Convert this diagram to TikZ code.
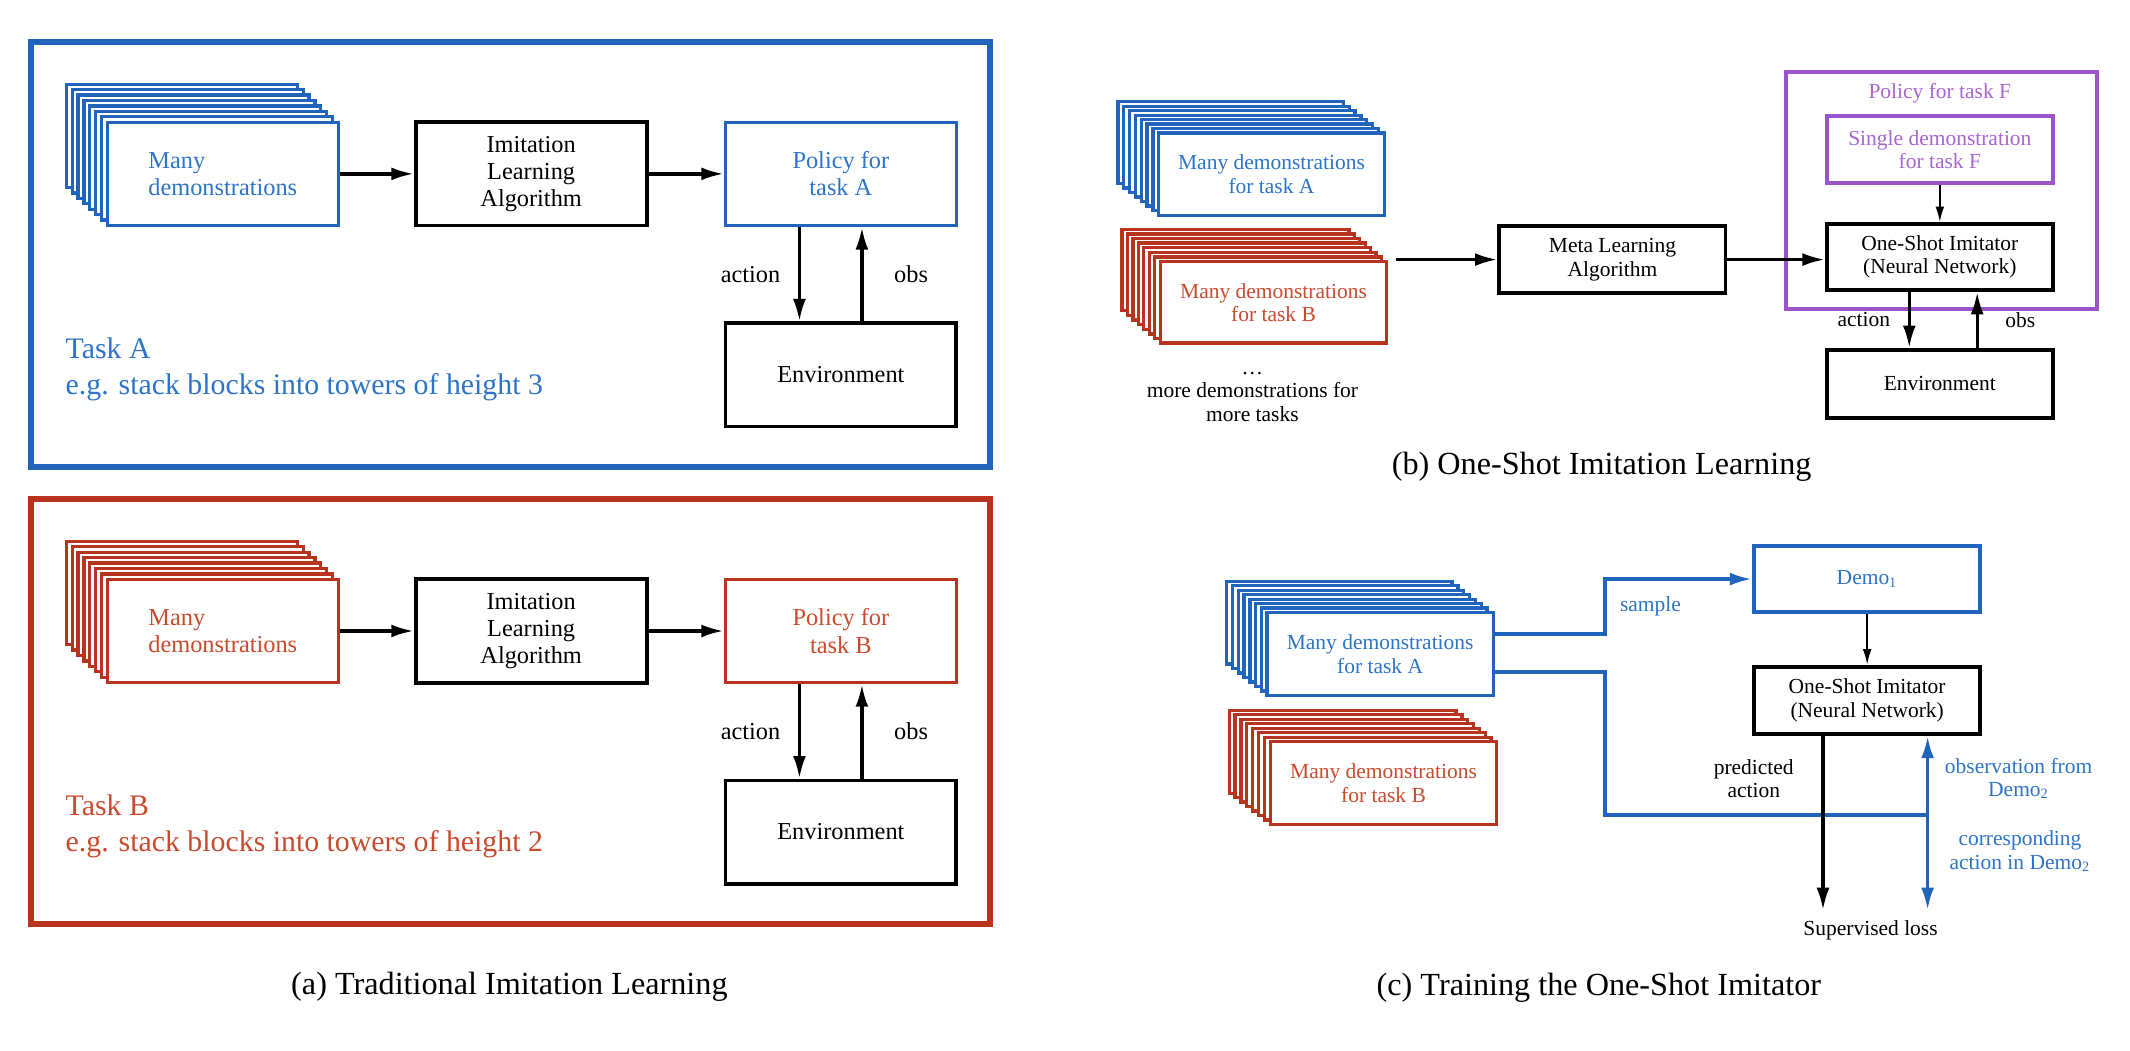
\documentclass[tikz,border=0pt]{standalone}
\usepackage{fontspec}
\setmainfont{Liberation Serif}
\usepackage{tikz}
\usetikzlibrary{arrows.meta, positioning}
\usepackage{xcolor}

\definecolor{taskblue}{RGB}{32,100,188}
\definecolor{textblue}{RGB}{46,116,198}
\definecolor{taskred}{RGB}{185,52,30}
\definecolor{textred}{RGB}{200,75,46}
\definecolor{taskpurple}{RGB}{155,85,202}
\definecolor{textpurple}{RGB}{168,102,210}

\tikzstyle{panel}     = [line width=2.6pt]
\tikzstyle{card}      = [line width=1.4pt, fill=white]
\tikzstyle{box}       = [draw, line width=1.6pt, fill=white, align=center, inner sep=1pt]
\tikzstyle{bigbox}    = [minimum width=3.4cm, minimum height=1.52cm, font=\fontsize{10.2}{11.4}\selectfont]
\tikzstyle{smallbox}  = [minimum width=3.33cm, font=\fontsize{9}{9.8}\selectfont]
\tikzstyle{biglbl}    = [font=\fontsize{10.2}{11.4}\selectfont]
\tikzstyle{smalllbl}  = [font=\fontsize{9}{9.8}\selectfont]
\tikzstyle{tasklbl}   = [anchor=west, inner sep=0pt, align=left, font=\fontsize{12.5}{15.3}\selectfont]
\tikzstyle{captxt}    = [font=\fontsize{13.5}{16}\selectfont]
\tikzstyle{arrow}     = [line width=1.4pt, -{Latex[length=3.3mm, width=1.9mm]}]
\tikzstyle{thinarrow} = [line width=0.8pt, -{Latex[length=2.3mm, width=1.3mm]}]
\tikzstyle{twoway}    = [line width=1.5pt, {Latex[length=3.3mm, width=1.9mm]}-{Latex[length=3.3mm, width=1.9mm]}]
\tikzstyle{wire}      = [line width=1.6pt, draw=taskblue]

\begin{document}
\begin{tikzpicture}[x=0.02cm, y=-0.02cm]
\useasboundingbox (0,0) rectangle (1568,773);

% (a) task A
\draw[panel, draw=taskblue] (23,30.7) rectangle (729,343.6);
\foreach \i in {7,...,1}
  \draw[card, draw=taskblue] (79-4.3*\i,90-4*\i) rectangle ++(170,76);
\node[box, bigbox, card, draw=taskblue, text=textblue, align=left] (demosA) at (164,128) {Many\\demonstrations};
\node[box, bigbox] (imitA) at (391,128) {Imitation\\Learning\\Algorithm};
\node[box, bigbox, draw=taskblue, line width=1.4pt, text=textblue] (polA) at (619,128) {Policy for\\task A};
\node[box, bigbox] (envA) at (619,276) {Environment};
\node[tasklbl, text=textblue] (taskA) at (48,272) {Task A\\e.g. stack blocks into towers of height 3};

\draw[arrow] (demosA) -- (imitA);
\draw[arrow] (imitA) -- (polA);
\draw[arrow] ([xshift=-0.61cm]polA.south) -- ([xshift=-0.61cm]envA.north) node[midway, left=4pt, biglbl] (actA) {action};
\draw[arrow] ([xshift=0.31cm]envA.north) -- ([xshift=0.31cm]polA.south) node[midway, right=9.5pt, biglbl] (obsA) {obs};

% (a) task B
\draw[panel, draw=taskred] (23,367.2) rectangle (729,680.1);
\foreach \i in {7,...,1}
  \draw[card, draw=taskred] (79-4.3*\i,426.5-4*\i) rectangle ++(170,76);
\node[box, bigbox, card, draw=taskred, text=textred, align=left] (demosB) at (164,464.5) {Many\\demonstrations};
\node[box, bigbox] (imitB) at (391,464.5) {Imitation\\Learning\\Algorithm};
\node[box, bigbox, draw=taskred, line width=1.4pt, text=textred] (polB) at (619,464.5) {Policy for\\task B};
\node[box, bigbox] (envB) at (619,612.5) {Environment};
\node[tasklbl, text=textred] (taskB) at (48,608.5) {Task B\\e.g. stack blocks into towers of height 2};

\draw[arrow] (demosB) -- (imitB);
\draw[arrow] (imitB) -- (polB);
\draw[arrow] ([xshift=-0.61cm]polB.south) -- ([xshift=-0.61cm]envB.north) node[midway, left=4pt, biglbl] (actB) {action};
\draw[arrow] ([xshift=0.31cm]envB.north) -- ([xshift=0.31cm]polB.south) node[midway, right=9.5pt, biglbl] (obsB) {obs};

\node[captxt] (capa) at (375,726.6) {(a) Traditional Imitation Learning};

% (b) one-shot imitation learning
\foreach \i in {7,...,1}
  \draw[card, draw=taskblue] (853-4.3*\i,98-3.3*\i) rectangle ++(166,60.3);
\node[box, smallbox, card, draw=taskblue, text=textblue, minimum height=1.21cm] (demosAb) at (936,128.2) {Many demonstrations\\for task A};
\foreach \i in {7,...,1}
  \draw[card, draw=taskred] (854-4*\i,192.6-3.4*\i) rectangle ++(167,60);
\node[box, smallbox, card, draw=taskred, text=textred, minimum height=1.2cm] (demosBb) at (937.5,222.6) {Many demonstrations\\for task B};
\node[smalllbl, align=center] (moreb) at (922,292) {\ldots\\more demonstrations for\\more tasks};
\coordinate (stacksout) at (1028,191.1);
\node[box, smallbox, minimum height=0.99cm] (meta) at (1187,191.1) {Meta Learning\\Algorithm};

\draw[panel, line width=1.7pt, draw=taskpurple] (1315,52.8) rectangle (1544,227.6);
\node[smalllbl, text=textpurple] (polF) at (1428,68.7) {Policy for task F};
\node[box, smallbox, draw=taskpurple, text=textpurple, minimum height=0.99cm] (single) at (1428,110.2) {Single demonstration\\for task F};
\node[box, smallbox, minimum height=0.97cm] (imitb) at (1428,189.2) {One-Shot Imitator\\(Neural Network)};
\node[box, smallbox, minimum height=1cm] (envb) at (1428,282.6) {Environment};

\draw[arrow] (stacksout) -- (meta);
\draw[arrow] (meta.east) -- (meta.east -| imitb.west);
\draw[thinarrow] (single) -- (imitb);
\draw[arrow] ([xshift=-0.45cm]imitb.south) -- ([xshift=-0.45cm]envb.north) node[midway, left=4pt, smalllbl] (actb) {action};
\draw[arrow] ([xshift=0.55cm]envb.north) -- ([xshift=0.55cm]imitb.south) node[midway, right=7.8pt, smalllbl] (obsb) {obs};

\node[captxt] (capb) at (1179,344) {(b) One-Shot Imitation Learning};

% (c) training the one-shot imitator
\foreach \i in {7,...,1}
  \draw[card, draw=taskblue] (933-4.3*\i,451-3.3*\i) rectangle ++(166,61);
\node[box, smallbox, card, draw=taskblue, text=textblue, minimum height=1.22cm] (demosAc) at (1016,481.5) {Many demonstrations\\for task A};
\foreach \i in {7,...,1}
  \draw[card, draw=taskred] (935-4.3*\i,546-3.3*\i) rectangle ++(167,61);
\node[box, smallbox, card, draw=taskred, text=textred, minimum height=1.22cm] (demosBc) at (1018.5,576.5) {Many demonstrations\\for task B};
\node[box, smallbox, draw=taskblue, line width=1.5pt, text=textblue, minimum height=0.97cm] (demo1) at (1374.5,426.3) {Demo\textsubscript{1}};
\node[box, smallbox, minimum height=0.99cm] (imitc) at (1374.5,515.5) {One-Shot Imitator\\(Neural Network)};
\coordinate (obsjoin) at (1419,600);
\coordinate (losspred) at (1342,670);
\coordinate (lossobs) at (1419,670);
\node[smalllbl] (loss) at (1377,685) {Supervised loss};

\draw[wire, -{Latex[length=3.3mm, width=1.9mm]}] ([yshift=0.29cm]demosAc.east) -- ++(81,0) |- (demo1.west);
\draw[wire] ([yshift=-0.26cm]demosAc.east) -- ++(81,0) |- (obsjoin);
\draw[twoway, taskblue] (imitc.south -| obsjoin) -- (lossobs);
\draw[arrow] (imitc.south -| losspred) -- (losspred);
\draw[thinarrow] (demo1) -- (imitc);

\node[smalllbl, text=textblue] (samplelbl) at (1215,446) {sample};
\node[smalllbl, align=center] (predlbl) at (1291,573) {predicted\\action};
\node[smalllbl, align=center, text=textblue] (obslbl) at (1486,573) {observation from\\Demo\textsubscript{2}};
\node[smalllbl, align=center, text=textblue] (corrlbl) at (1487,626.5) {corresponding\\action in Demo\textsubscript{2}};

\node[captxt] (capc) at (1177,727) {(c) Training the One-Shot Imitator};

\end{tikzpicture}
\end{document}
